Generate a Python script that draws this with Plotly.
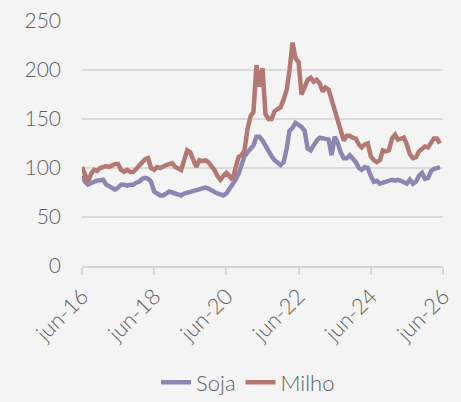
import pandas as pd
import plotly.graph_objects as go

# monthly series, jun-2016 .. may-2026
months = pd.date_range("2016-06-01", periods=120, freq="MS")

soja = [92, 86, 83, 85, 86, 87, 88, 88, 83, 81, 79, 78, 80, 83, 83, 82, 83, 83, 85, 86,
        89, 90, 89, 86, 76, 74, 72, 72, 74, 76, 75, 74, 73, 72, 74, 75, 76, 77, 78, 79,
        80, 80, 79, 77, 76, 74, 73, 72, 74, 78, 82, 88, 94, 104, 112, 116, 120, 123, 132, 132,
        128, 122, 116, 112, 108, 105, 103, 106, 120, 138, 141, 146, 144, 142, 138, 120, 118, 124, 128, 131,
        130, 129, 129, 113, 132, 126, 116, 110, 110, 113, 110, 106, 100, 98, 101, 100, 92, 86, 87, 84,
        85, 86, 86, 88, 87, 88, 87, 86, 84, 88, 84, 86, 92, 95, 89, 90, 97, 99, 100, 101]

milho = [101, 92, 86, 94, 98, 97, 100, 101, 102, 101, 103, 104, 104, 98, 96, 98, 96, 96, 99, 102,
         106, 109, 110, 100, 98, 101, 100, 102, 103, 104, 105, 101, 99, 98, 108, 118, 116, 108, 101, 108,
         107, 108, 106, 102, 98, 92, 88, 92, 95, 92, 88, 100, 111, 113, 118, 140, 153, 157, 205, 183,
         202, 155, 150, 150, 158, 160, 162, 170, 180, 200, 228, 212, 208, 175, 183, 190, 192, 188, 190, 186,
         178, 182, 180, 170, 160, 148, 136, 128, 133, 133, 131, 130, 124, 121, 124, 125, 112, 108, 106, 108,
         118, 117, 118, 130, 134, 129, 130, 131, 124, 114, 110, 111, 117, 120, 122, 121, 125, 130, 130, 125]

tick_dates = ["2016-06-01", "2018-06-01", "2020-06-01", "2022-06-01", "2024-06-01", "2026-06-01"]
tick_labels = ["jun-16", "jun-18", "jun-20", "jun-22", "jun-24", "jun-26"]

fig = go.Figure()
fig.add_trace(go.Scatter(x=months, y=soja, name="Soja", mode="lines",
                         line=dict(color="#8d86b3", width=4.5)))
fig.add_trace(go.Scatter(x=months, y=milho, name="Milho", mode="lines",
                         line=dict(color="#b47873", width=4.5)))

fig.update_layout(
    width=461, height=402,
    margin=dict(l=82, r=18, t=21, b=136, autoexpand=False),
    paper_bgcolor="#f4f4f4", plot_bgcolor="#f4f4f4",
    font=dict(family="Lato", size=21, color="#5f5f5f", weight=300),
    showlegend=True,
    legend=dict(orientation="h", x=0.46, xanchor="center", y=-0.39, yanchor="top",
                font=dict(size=22), traceorder="normal"),
)
fig.update_yaxes(range=[0, 250], tickvals=[0, 50, 100, 150, 200, 250], automargin=False,
                 showgrid=True, gridcolor="#dadada", gridwidth=1.5,
                 zeroline=False, showline=False, ticks="", ticklabelstandoff=20)
fig.update_xaxes(range=["2016-06-01", "2026-06-01"], tickvals=tick_dates, ticktext=tick_labels,
                 automargin=False, tickangle=-45, showgrid=False, showline=True,
                 linecolor="#d6d6d6", linewidth=1.5, tickfont=dict(size=22),
                 ticks="outside", tickcolor="#d6d6d6", tickwidth=1.5, ticklen=7)

# drop the browser's default page margin so the figure sits at the window edge
fig.write_html("out.html", config={"displayModeBar": False},
               post_script="document.body.style.margin='0';")
